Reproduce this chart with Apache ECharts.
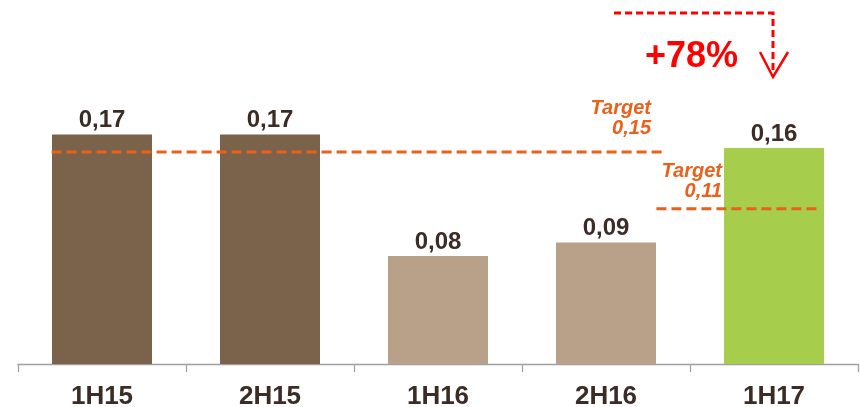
<!DOCTYPE html>
<html>
<head>
<meta charset="utf-8">
<script src="https://cdn.jsdelivr.net/npm/echarts@6/dist/echarts.min.js"></script>
<style>html,body{margin:0;padding:0;background:#fff;}#c{width:860px;height:407px;}</style>
</head>
<body>
<div id="c"></div>
<script>
const categories = ['1H15', '2H15', '1H16', '2H16', '1H17'];
const values = [0.17, 0.17, 0.08, 0.09, 0.16];
const barColors = ['#7B624A', '#7B624A', '#B9A189', '#B9A189', '#A6CE4C'];
// Target lines: [xStart, xEnd] in category units, drawn level, label text
const target1Span = [0.2, 3.84];
const target1Level = 0.157;
const target1Label = 'Target\n0,15';
const target2Span = [3.8, 4.78];
const target2Level = 0.115;
const target2Label = 'Target\n0,11';
const growthLabel = '+78%';

const FONT = '"Liberation Sans", Arial, sans-serif';
const ORANGE = '#E9611A';
const TEXT = '#3B2C26';

const chart = echarts.init(document.getElementById('c'), null, {renderer: 'canvas'});
chart.setOption({
  animation: false,
  grid: {left: 18, right: 2, top: 94, bottom: 43, containLabel: false, outerBoundsMode: 'none'},
  xAxis: [{
    type: 'category',
    data: categories,
    axisLine: {lineStyle: {color: '#A0A0A0', width: 1.3}},
    axisTick: {show: true, length: 8, lineStyle: {color: '#A0A0A0', width: 1.3}},
    axisLabel: {fontFamily: FONT, fontWeight: 'bold', fontSize: 26, color: TEXT, margin: 20}
  }, {
    type: 'value', min: 0, max: 5, show: false
  }],
  yAxis: {type: 'value', min: 0, max: 0.2, show: false, splitLine: {show: false}},
  series: [{
    type: 'bar',
    barWidth: 100,
    data: values.map((v, i) => ({value: v, itemStyle: {color: barColors[i]}})),
    label: {
      show: true, position: 'top', distance: 2,
      fontFamily: FONT, fontWeight: 'bold', fontSize: 24, color: TEXT,
      formatter: p => p.value.toFixed(2).replace('.', ',')
    }
  }, {
    type: 'line', xAxisIndex: 1, symbol: 'none',
    data: [[target1Span[0], target1Level], [target1Span[1], target1Level]],
    lineStyle: {color: ORANGE, width: 3, type: [10, 5]}, z: 5
  }, {
    type: 'line', xAxisIndex: 1, symbol: 'none',
    data: [[target2Span[0], target2Level], [target2Span[1], target2Level]],
    lineStyle: {color: ORANGE, width: 3, type: [10, 5]}, z: 5
  }],
  graphic: [
    {type: 'text', x: 651, y: 98, style: {text: target1Label, font: 'italic bold 20px ' + FONT, fill: ORANGE, align: 'right', verticalAlign: 'top', lineHeight: 20}},
    {type: 'text', x: 722, y: 161, style: {text: target2Label, font: 'italic bold 20px ' + FONT, fill: ORANGE, align: 'right', verticalAlign: 'top', lineHeight: 20}},
    {type: 'polyline', shape: {points: [[614, 13], [773, 13], [773, 75]]}, style: {stroke: '#FF0000', lineWidth: 3, fill: null, lineDash: [7, 4]}},
    {type: 'polyline', shape: {points: [[760, 52], [773, 77], [788, 52]]}, style: {stroke: '#FF0000', lineWidth: 2.5, fill: null}},
    {type: 'text', x: 645, y: 39, style: {text: growthLabel, font: 'bold 36px ' + FONT, fill: '#FF0000'}}
  ]
});
</script>
</body>
</html>
